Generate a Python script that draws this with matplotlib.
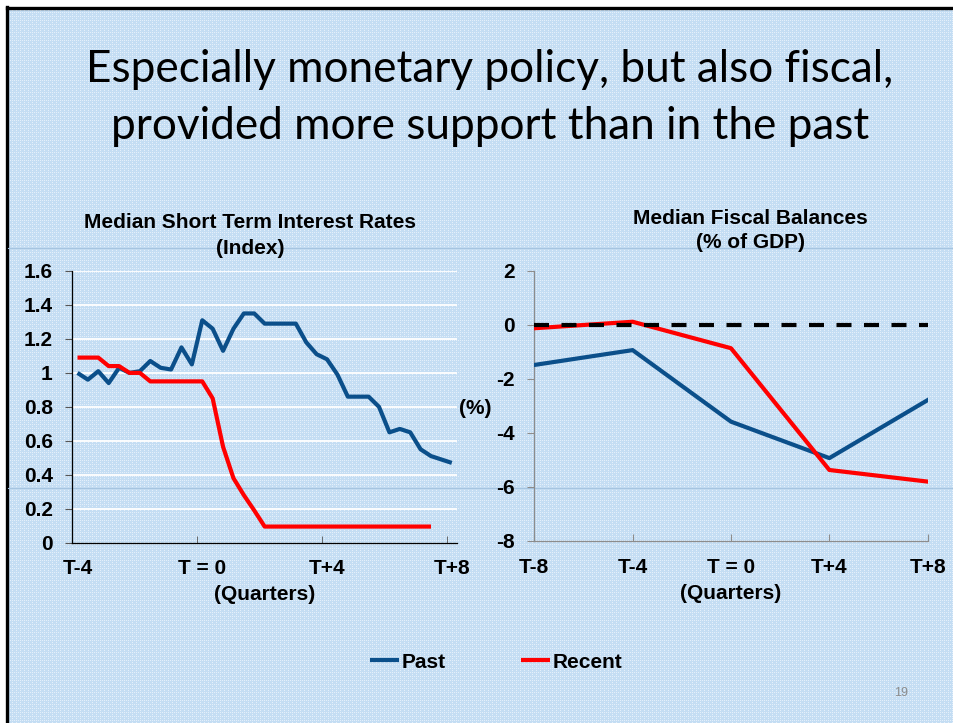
import numpy as np
import matplotlib
matplotlib.use("Agg")
import matplotlib.pyplot as plt
from matplotlib.lines import Line2D

# ---- data -------------------------------------------------------------
rate_tick_labels = ["T-4", "T = 0", "T+4", "T+8"]
past_rates = [1.00, 0.96, 1.01, 0.94, 1.03, 1.00, 1.01, 1.07, 1.03, 1.02,
              1.15, 1.05, 1.31, 1.26, 1.13, 1.26, 1.35, 1.35, 1.29, 1.29,
              1.29, 1.29, 1.18, 1.11, 1.08, 0.99, 0.86, 0.86, 0.86, 0.80,
              0.65, 0.67, 0.65, 0.55, 0.51, 0.49, 0.47]
recent_rates = [1.09, 1.09, 1.09, 1.04, 1.04, 1.00, 1.00, 0.95, 0.95, 0.95,
                0.95, 0.95, 0.95, 0.85, 0.565, 0.38, 0.28, 0.19, 0.095, 0.095,
                0.095, 0.095, 0.095, 0.095, 0.095, 0.095, 0.095, 0.095, 0.095,
                0.095, 0.095, 0.095, 0.095, 0.095, 0.095]

fiscal_quarters = ["T-8", "T-4", "T = 0", "T+4", "T+8"]
past_fiscal = [-1.48, -0.93, -3.58, -4.93, -2.78]
recent_fiscal = [-0.12, 0.12, -0.86, -5.37, -5.80]

# ---- style ------------------------------------------------------------
PAST = "#0b4f8a"
RECENT = "#ff0000"
BG = np.array([0xc4, 0xdd, 0xf3]) / 255.0
DOT = np.array([0xe4, 0xef, 0xfa]) / 255.0
FS = 15

W, H = 954, 723
plt.rcParams["axes.unicode_minus"] = False
fig = plt.figure(figsize=(W / 100, H / 100), dpi=100, facecolor="white")
plt.rcParams["font.family"] = ["Liberation Sans", "DejaVu Sans"]

# slide background with a fine dotted texture
yy, xx = np.mgrid[0:H, 0:W]
dots = ((xx % 4 == 0) & (yy % 2 == 0)) | ((yy % 4 == 0) & (xx % 2 == 0))
img = np.empty((H, W, 3))
img[:] = BG
img[dots] = DOT
img[:8, :] = 1.0
img[:, :8] = 1.0
fig.figimage(img, xo=0, yo=0, origin="upper", zorder=-5)

def px(x, y):
    return x / W, 1 - y / H

# slide frame and guide lines
fig.add_artist(Line2D([7 / W, 1], [1 - 7.5 / H] * 2, color="black", lw=2.4, zorder=-1))
fig.add_artist(Line2D([7.5 / W] * 2, [0, 1 - 7 / H], color="black", lw=2.4, zorder=-1))
for gy in (247.5, 487.5):
    fig.add_artist(Line2D([8 / W, 1], [1 - gy / H] * 2, color="#a6c4e0", lw=0.8,
                          zorder=-1))

# slide title
title_font = dict(family=["Lato", "DejaVu Sans"], fontsize=31.8, color="black",
                  ha="center", va="baseline")
fig.text(*px(490, 82), "Especially monetary policy, but also fiscal,", **title_font)
fig.text(*px(490, 139), "provided more support than in the past", **title_font)

bold = dict(fontweight="bold", color="black")

# ---- left panel: short term interest rates -----------------------------
ax1 = fig.add_axes([72.3 / W, 1 - 542.7 / H, (457 - 72.3) / W, (542.7 - 271) / H],
                   zorder=2)
ax1.set_facecolor("none")
months = np.arange(len(past_rates))
ax1.set_xlim(-0.5, len(past_rates) - 0.5)
ax1.set_ylim(0, 1.6)
ax1.set_yticks(np.arange(0, 1.61, 0.2))
ax1.set_yticklabels(["0", "0.2", "0.4", "0.6", "0.8", "1", "1.2", "1.4", "1.6"])
# labels sit on the category centres, tick marks on the category boundaries
ax1.set_xticks([0, 12, 24, 36])
ax1.set_xticklabels(rate_tick_labels)
ax1.set_xticks([-0.5, 11.5, 23.5, 35.5], minor=True)
for v in np.arange(0.2, 1.61, 0.2):
    ax1.axhline(v, color="white", lw=1.3, zorder=1)
ax1.plot(months, past_rates, color=PAST, lw=3, solid_joinstyle="round",
         solid_capstyle="butt", zorder=3, label="Past")
ax1.plot(np.arange(len(recent_rates)), recent_rates, color=RECENT, lw=3,
         solid_joinstyle="round", solid_capstyle="butt", zorder=4, label="Recent")
for s in ("top", "right"):
    ax1.spines[s].set_visible(False)
for s in ("left", "bottom"):
    ax1.spines[s].set_color("black")
    ax1.spines[s].set_linewidth(0.9)
ax1.tick_params(axis="y", direction="out", length=5, color="#555555", pad=9,
                labelsize=FS)
ax1.tick_params(axis="x", which="major", length=0, pad=12, labelsize=FS)
ax1.tick_params(axis="x", which="minor", direction="in", length=5, color="#555555")
for t in ax1.get_xticklabels() + ax1.get_yticklabels():
    t.set_fontweight("bold")
ax1.set_xlabel("(Quarters)", fontsize=FS, labelpad=5, **bold)

# ---- right panel: fiscal balances --------------------------------------
ax2 = fig.add_axes([534.3 / W, 1 - 541 / H, (927.7 - 534.3) / W, (541 - 271) / H],
                   zorder=2)
ax2.set_facecolor("none")
q = np.arange(len(fiscal_quarters))
ax2.set_xlim(0, len(fiscal_quarters) - 1)
ax2.set_ylim(-8, 2)
ax2.set_yticks(np.arange(-8, 2.1, 2))
ax2.set_xticks(q)
ax2.set_xticklabels(fiscal_quarters)
ax2.plot(q, past_fiscal, color=PAST, lw=3, solid_joinstyle="round", zorder=3)
ax2.plot(q, recent_fiscal, color=RECENT, lw=3, solid_joinstyle="round", zorder=4)
ax2.plot([q[0], q[-1]], [0, 0], color="black", lw=3, dashes=(3.6, 3.0), zorder=5)
for s in ("top", "right"):
    ax2.spines[s].set_visible(False)
for s in ("left", "bottom"):
    ax2.spines[s].set_color("#8c8c8c")
    ax2.spines[s].set_linewidth(0.9)
ax2.tick_params(axis="y", direction="out", length=5, color="#8c8c8c", pad=9,
                labelsize=FS)
ax2.tick_params(axis="x", direction="in", length=5, color="#8c8c8c", pad=12,
                labelsize=FS)
for t in ax2.get_xticklabels() + ax2.get_yticklabels():
    t.set_fontweight("bold")
ax2.set_xlabel("(Quarters)", fontsize=FS, labelpad=5, **bold)
fig.text(*px(475, 408), "(%)", fontsize=FS, ha="center", va="center", **bold)

# panel titles
fig.text(*px(250, 222), "Median Short Term Interest Rates", fontsize=FS,
         ha="center", va="center", **bold)
fig.text(*px(250, 248), "(Index)", fontsize=FS, ha="center", va="center", **bold)
fig.text(*px(750, 218), "Median Fiscal Balances", fontsize=FS,
         ha="center", va="center", **bold)
fig.text(*px(750, 243), "(% of GDP)", fontsize=FS, ha="center", va="center", **bold)

# legend
leg = fig.legend(handles=ax1.get_lines()[-2:], labels=["Past", "Recent"],
                 loc="center", bbox_to_anchor=px(496, 662), ncol=2, frameon=False,
                 handlelength=1.4, handletextpad=0.12, columnspacing=3.6,
                 prop=dict(weight="bold", size=FS))

# slide number
fig.text(*px(901, 693), "19", fontsize=9, color="#8c8c8c", ha="center", va="center")

fig.savefig("out.png", dpi=100, facecolor="white")
